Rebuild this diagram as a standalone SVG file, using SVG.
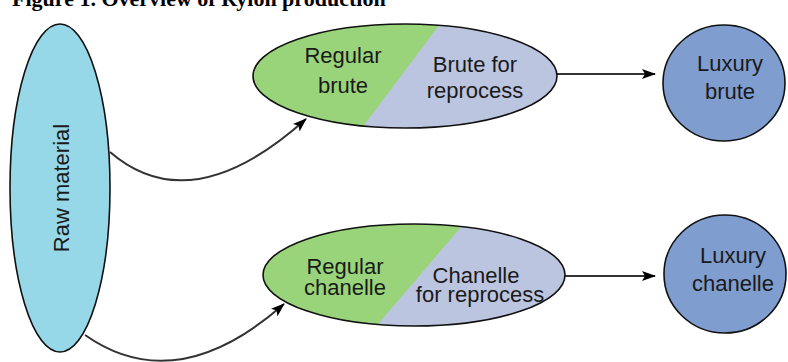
<svg xmlns="http://www.w3.org/2000/svg" width="788" height="362" viewBox="0 0 788 362">
<style>
.title{font-family:"Liberation Serif","Times New Roman",serif;font-weight:bold;font-size:22px;fill:#000}
.lbl{font-family:"Liberation Sans",Arial,sans-serif;font-size:22px;fill:#1a1a1a;text-anchor:middle}
.outline{fill:none;stroke:#111;stroke-width:1.6}
.conn{fill:none;stroke:#333;stroke-width:2}
.green{fill:#99d47b}
.grey{fill:#bcc5e0}
.raw{fill:#96d8e8;stroke:#111;stroke-width:1.6}
.lux{fill:#7f9dcf;stroke:#111;stroke-width:1.6}
</style>
<defs>
<marker id="ah" markerUnits="userSpaceOnUse" markerWidth="14" markerHeight="10" viewBox="0 0 14 10" refX="13" refY="5" orient="auto">
<path d="M0,0 L14,5 L0,10 L3,5 Z" fill="#000"/>
</marker>
<clipPath id="c1"><ellipse cx="405" cy="76" rx="152" ry="52"/></clipPath>
<clipPath id="c2"><ellipse cx="414" cy="275" rx="151" ry="51"/></clipPath>
</defs>
<rect width="788" height="362" fill="#fff"/>
<text class="title" x="12" y="6">Figure 1. Overview of Rylon production</text>
<g id="connectors">
<path class="conn" d="M110,152 Q191,222 306,119" marker-end="url(#ah)"/>
<path class="conn" d="M85,335 Q176,399 284,304" marker-end="url(#ah)"/>
<path class="conn" d="M557,74 L655,74" marker-end="url(#ah)"/>
<path class="conn" d="M565,276 L655,276" marker-end="url(#ah)"/>
</g>
<g id="raw-material">
<ellipse class="raw" cx="60" cy="188" rx="50" ry="164"/>
<text class="lbl" transform="translate(69,188) rotate(-90)">Raw material</text>
</g>
<g id="brute">
<ellipse class="green" cx="405" cy="76" rx="152" ry="52"/>
<polygon class="grey" points="443,20 600,20 600,135 362,135 362,128" clip-path="url(#c1)"/>
<polygon class="grey" points="447,20 362,132 600,132 600,20" clip-path="url(#c1)"/>
<ellipse class="outline" cx="405" cy="76" rx="152" ry="52"/>
<text class="lbl" x="343" y="63">Regular</text>
<text class="lbl" x="343" y="93">brute</text>
<text class="lbl" x="475" y="72">Brute for</text>
<text class="lbl" x="475" y="98">reprocess</text>
</g>
<g id="chanelle">
<ellipse class="green" cx="414" cy="275" rx="151" ry="51"/>
<polygon class="grey" points="467,220 373,330 620,330 620,220" clip-path="url(#c2)"/>
<ellipse class="outline" cx="414" cy="275" rx="151" ry="51"/>
<text class="lbl" x="345" y="274">Regular</text>
<text class="lbl" x="345" y="295">chanelle</text>
<text class="lbl" x="476" y="283">Chanelle</text>
<text class="lbl" x="480" y="302">for reprocess</text>
</g>
<g id="luxury-brute">
<ellipse class="lux" cx="724" cy="83" rx="61" ry="58"/>
<text class="lbl" x="730" y="71">Luxury</text>
<text class="lbl" x="730" y="99">brute</text>
</g>
<g id="luxury-chanelle">
<ellipse class="lux" cx="725" cy="274" rx="61" ry="59"/>
<text class="lbl" x="733" y="263">Luxury</text>
<text class="lbl" x="733" y="291">chanelle</text>
</g>
</svg>
